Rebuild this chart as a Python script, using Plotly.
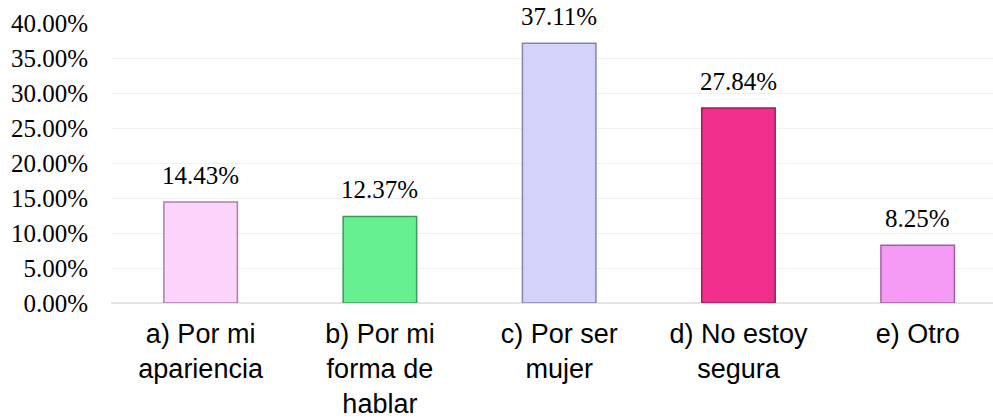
import plotly.graph_objects as go

categories = ["a) Por mi<br>apariencia", "b) Por mi<br>forma de<br>hablar", "c) Por ser<br>mujer",
              "d) No estoy<br>segura", "e) Otro"]
values = [0.1443, 0.1237, 0.3711, 0.2784, 0.0825]
value_labels = ["14.43%", "12.37%", "37.11%", "27.84%", "8.25%"]
bar_colors = ["#FBD3FB", "#66F092", "#D2D2FB", "#F22E8C", "#F59AF5"]
edge_colors = ["#A883A8", "#3E9A5C", "#8484B0", "#9A1F5A", "#A060A0"]
tick_vals = [0, 0.05, 0.10, 0.15, 0.20, 0.25, 0.30, 0.35, 0.40]
tick_text = ["0.00%", "5.00%", "10.00%", "15.00%", "20.00%", "25.00%", "30.00%", "35.00%", "40.00%"]

serif = "Liberation Serif"

fig = go.Figure()
fig.add_trace(go.Bar(
    x=list(range(len(categories))),
    y=values,
    width=0.41,
    marker=dict(color=bar_colors, line=dict(color=edge_colors, width=1.5)),
    hoverinfo="skip",
))

for i, (v, t) in enumerate(zip(values, value_labels)):
    fig.add_annotation(x=i, y=v, text=t, showarrow=False, yanchor="bottom",
                       yshift=11, font=dict(family=serif, size=25, color="#000000"))

fig.update_layout(
    width=993, height=419,
    margin=dict(l=111, r=0, t=23, b=116),
    paper_bgcolor="white", plot_bgcolor="white",
    showlegend=False,
)
fig.update_xaxes(
    range=[-0.5, 4.42], automargin=False,
    tickmode="array", tickvals=list(range(len(categories))), ticktext=categories,
    tickfont=dict(family="Liberation Sans", size=27, color="#000000"),
    showgrid=False, showline=False, zeroline=False,
    ticks="", ticklabelstandoff=12,
)
fig.update_yaxes(
    range=[0, 0.40], automargin=False,
    tickmode="array", tickvals=tick_vals, ticktext=tick_text,
    tickfont=dict(family=serif, size=25, color="#000000"),
    showgrid=True, gridcolor="#F0F0F0", gridwidth=1,
    zeroline=True, zerolinecolor="#E3E3E3", zerolinewidth=2,
    showline=False, ticks="", ticklabelstandoff=22,
)

fig.write_html("out.html", config={"displayModeBar": False},
               post_script="document.body.style.margin='0';document.body.style.overflow='hidden';")
